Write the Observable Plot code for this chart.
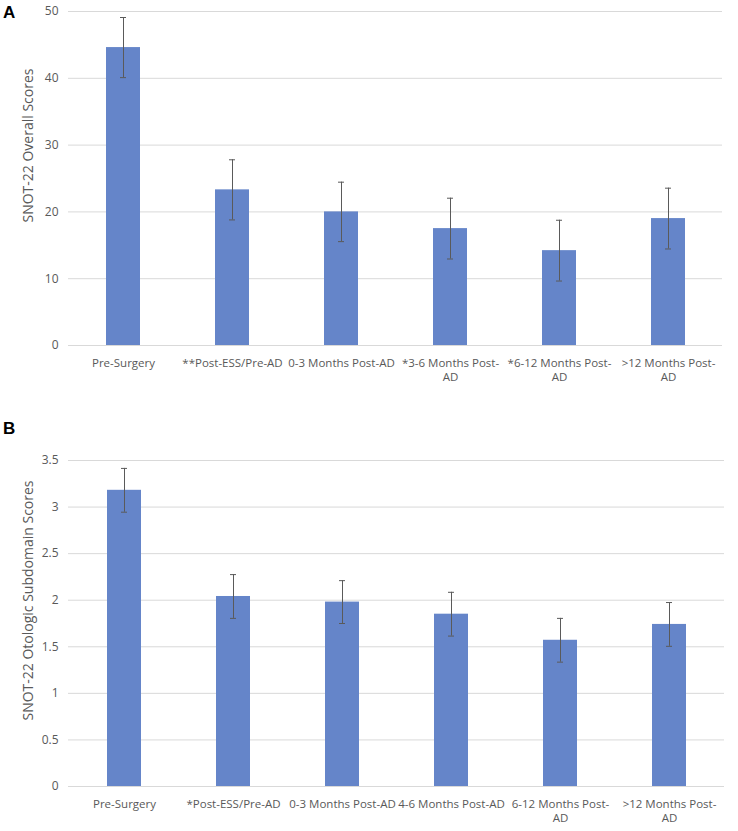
<!DOCTYPE html>
<html>
<head>
<meta charset="utf-8">
<script src="https://cdn.jsdelivr.net/npm/d3@7"></script>
<script src="https://cdn.jsdelivr.net/npm/@observablehq/plot@0.6"></script>
<style>
  html, body { margin: 0; padding: 0; background: #fff; }
  #wrap { position: relative; width: 738px; height: 831px; }
  .panel { position: absolute; left: 0; }
  .letter { position: absolute; left: 3px; font: bold 17px/1 "Liberation Sans", Arial, sans-serif; color: #000; }
</style>
</head>
<body>
<div id="wrap">
  <div class="panel" id="pa" style="top:0px"></div>
  <div class="panel" id="pb" style="top:390px"></div>
  <div class="letter" style="top:4px">A</div>
  <div class="letter" style="top:420px">B</div>
</div>
<script>
// ---- Panel A data ----
const categoriesA = ["Pre-Surgery", "**Post-ESS/Pre-AD", "0-3 Months Post-AD", "*3-6 Months Post-AD", "*6-12 Months Post-AD", ">12 Months Post-AD"];
const tickLabelsA = ["Pre-Surgery", "**Post-ESS/Pre-AD", "0-3 Months Post-AD", "*3-6 Months Post-\nAD", "*6-12 Months Post-\nAD", ">12 Months Post-\nAD"];
const meansA = [44.6, 23.3, 20.0, 17.5, 14.2, 19.0];
const errorsA = [4.5, 4.5, 4.45, 4.55, 4.55, 4.55];
const yTicksA = [0, 10, 20, 30, 40, 50];
const yLabelA = "SNOT-22 Overall Scores";

// ---- Panel B data ----
const categoriesB = ["Pre-Surgery", "*Post-ESS/Pre-AD", "0-3 Months Post-AD", "4-6 Months Post-AD", "6-12 Months Post-AD", ">12 Months Post-AD"];
const tickLabelsB = ["Pre-Surgery", "*Post-ESS/Pre-AD", "0-3 Months Post-AD", "4-6 Months Post-AD", "6-12 Months Post-\nAD", ">12 Months Post-\nAD"];
const meansB = [3.18, 2.04, 1.98, 1.85, 1.57, 1.74];
const errorsB = [0.235, 0.235, 0.23, 0.235, 0.235, 0.235];
const yTicksB = [0, 0.5, 1, 1.5, 2, 2.5, 3, 3.5];
const yLabelB = "SNOT-22 Otologic Subdomain Scores";

const BAR = "#6585c9";
const ERR = "#5a5a5a";
const GRID = "#d9d9d9";
const TXT = "#595959";
const FONT = "'Open Sans', 'Noto Sans', sans-serif";

function panel({categories, tickLabels, means, errors, yTicks, yLabel, yMax, height, marginTop, marginRight, labelDy}) {
  const data = categories.map((c, i) => ({cat: c, mean: means[i], lo: means[i] - errors[i], hi: means[i] + errors[i]}));
  const labelMap = new Map(categories.map((c, i) => [c, tickLabels[i]]));
  return Plot.plot({
    width: 738,
    height,
    marginLeft: 68,
    marginRight,
    marginTop,
    marginBottom: 45,
    style: {fontFamily: FONT, color: TXT, background: "#fff"},
    x: {type: "band", domain: categories, paddingInner: 0.69, paddingOuter: 0.345, label: null},
    y: {domain: [0, yMax], label: null},
    marks: [
      Plot.gridY(yTicks, {stroke: GRID, strokeOpacity: 1, strokeWidth: 1}),
      Plot.axisY({ticks: yTicks, tickSize: 0, tickPadding: 10, tickFormat: d => String(d), fontSize: 12, label: null, fill: TXT}),
      Plot.axisX({tickSize: 0, tickPadding: 11, tickFormat: d => labelMap.get(d), fontSize: 11.5, lineHeight: 1.25, label: null, fill: TXT}),
      Plot.barY(data, {x: "cat", y: "mean", fill: BAR}),
      Plot.ruleX(data, {x: "cat", y1: "lo", y2: "hi", stroke: ERR, strokeWidth: 1}),
      Plot.tickY(data, {x: "cat", y: "hi", stroke: ERR, strokeWidth: 1, insetLeft: 14, insetRight: 14}),
      Plot.tickY(data, {x: "cat", y: "lo", stroke: ERR, strokeWidth: 1, insetLeft: 14, insetRight: 14}),
      Plot.text([yLabel], {frameAnchor: "left", rotate: -90, dx: -40, dy: labelDy, textAnchor: "middle", lineAnchor: "middle", text: d => d, fontSize: 14, fill: TXT})
    ]
  });
}

document.getElementById("pa").appendChild(panel({
  categories: categoriesA, tickLabels: tickLabelsA, means: meansA, errors: errorsA,
  yTicks: yTicksA, yLabel: yLabelA, yMax: 50, height: 390, marginTop: 11, marginRight: 16, labelDy: -33
}));
document.getElementById("pb").appendChild(panel({
  categories: categoriesB, tickLabels: tickLabelsB, means: meansB, errors: errorsB,
  yTicks: yTicksB, yLabel: yLabelB, yMax: 3.5, height: 441, marginTop: 70, marginRight: 14, labelDy: -23
}));
</script>
</body>
</html>
